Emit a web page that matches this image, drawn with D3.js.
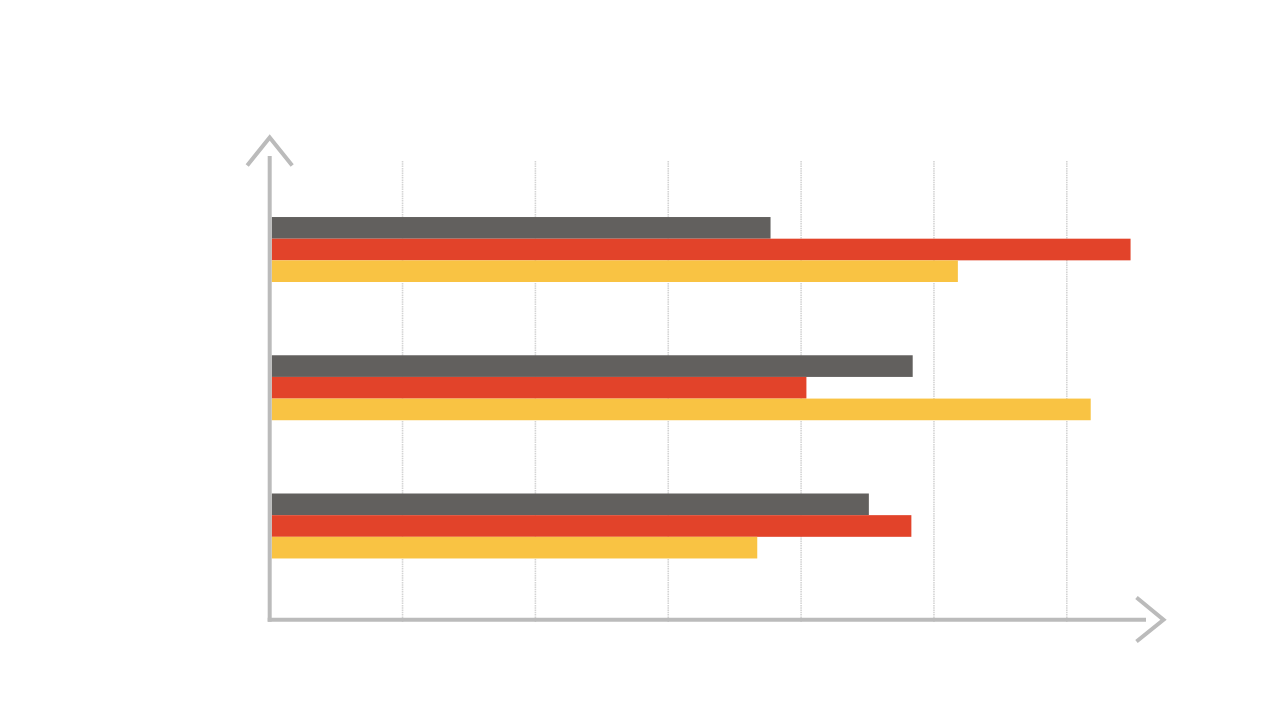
<!DOCTYPE html>
<html>
<head>
<meta charset="utf-8">
<script src="https://cdn.jsdelivr.net/npm/d3@7"></script>
<style>
  body { margin: 0; background: #fff; }
</style>
</head>
<body>
<script>
// data (values in grid units x10)
var categories = ["Category 1", "Category 2", "Category 3"];
var seriesNames = ["Series 1", "Series 2", "Series 3"];
var series1 = [37.7, 48.4, 45.1];
var series2 = [64.8, 40.4, 48.3];
var series3 = [51.8, 61.8, 36.7];
var gridTicks = [10, 20, 30, 40, 50, 60];

var colors = ["#62605e", "#e2432a", "#f9c343"];

var w = 1280, h = 720;
var svg = d3.select("body")
    .append("svg")
    .attr("width", w)
    .attr("height", h);

// x scale: origin on the y axis, one grid step = 10
var x = d3.scaleLinear()
    .domain([0, 70])
    .range([269.7, 269.7 + 7 * 132.85]);

// outer band for categories, inner band for series
var y0 = d3.scaleBand()
    .domain(categories)
    .range([180.4, 595.1])
    .paddingInner(0.53)
    .paddingOuter(0.265);

var y1 = d3.scaleBand()
    .domain(seriesNames)
    .range([0, y0.bandwidth()]);

var rows = categories.map(function(c, i){
    return { cat: c, vals: [series1[i], series2[i], series3[i]] };
});

var yTop = 161, yBottom = 622;

// dotted vertical grid lines
svg.append("g")
    .attr("class", "grid")
    .selectAll("line")
    .data(gridTicks)
    .enter()
    .append("line")
    .attr("x1", function(d){ return x(d); })
    .attr("x2", function(d){ return x(d); })
    .attr("y1", yTop)
    .attr("y2", yBottom)
    .style("stroke", "#d4d4d4")
    .style("stroke-width", 1.6)
    .style("stroke-dasharray", "1.5,0.8");

// bars
var groups = svg.selectAll(".group")
    .data(rows)
    .enter()
    .append("g")
    .attr("class", "group")
    .attr("transform", function(d){ return "translate(0," + y0(d.cat) + ")"; });

groups.selectAll("rect")
    .data(function(d){
        return d.vals.map(function(v, j){ return { name: seriesNames[j], value: v, j: j }; });
    })
    .enter()
    .append("rect")
    .attr("x", x(0) + 2)
    .attr("y", function(d){ return y1(d.name); })
    .attr("width", function(d){ return x(d.value) - x(0) - 2; })
    .attr("height", y1.bandwidth())
    .style("fill", function(d){ return colors[d.j]; });

// axes with arrow heads
var axisColor = "#bbbbbb";
var ox = x(0), oy = 619.7;
var axis = svg.append("g").attr("class", "axis")
    .style("stroke", axisColor)
    .style("stroke-width", 4)
    .style("fill", "none");

axis.append("line")
    .attr("x1", ox).attr("x2", ox)
    .attr("y1", 156).attr("y2", oy + 2);
axis.append("line")
    .attr("x1", ox - 2).attr("x2", 1146)
    .attr("y1", oy).attr("y2", oy);

axis.append("path")
    .attr("d", d3.line()([[ox - 22.5, 165.5], [ox, 137.5], [ox + 22.5, 165.5]]));
axis.append("path")
    .attr("d", d3.line()([[1136.5, 597.5], [1163.5, oy], [1136.5, 641.5]]));
</script>
</body>
</html>
